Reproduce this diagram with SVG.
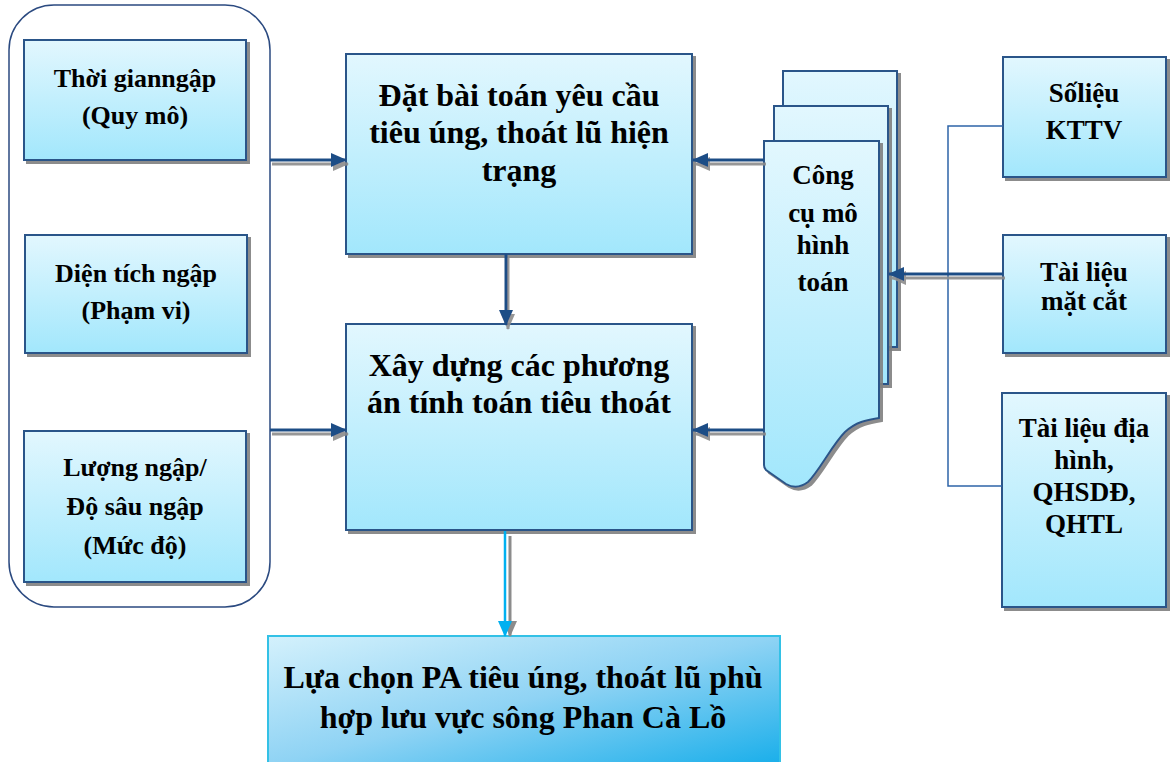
<svg xmlns="http://www.w3.org/2000/svg" width="1170" height="762" viewBox="0 0 1170 762">
  <defs>
    <linearGradient id="boxFill" x1="0" y1="0" x2="0" y2="1">
      <stop offset="0" stop-color="#e2f7fe"/>
      <stop offset="1" stop-color="#a2e7fc"/>
    </linearGradient>
    <linearGradient id="resultFill" x1="0" y1="0" x2="1" y2="1">
      <stop offset="0" stop-color="#d4f1fc"/>
      <stop offset="0.5" stop-color="#8fd3f4"/>
      <stop offset="1" stop-color="#18aeea"/>
    </linearGradient>
    <filter id="shadow" x="-10%" y="-10%" width="130%" height="130%">
      <feDropShadow dx="3" dy="3" stdDeviation="0.6" flood-color="#7f7f7f" flood-opacity="0.9"/>
    </filter>
    <filter id="lineShadow" x="-20%" y="-50%" width="140%" height="200%">
      <feDropShadow dx="2" dy="4" stdDeviation="0.5" flood-color="#8c8c8c" flood-opacity="0.9"/>
    </filter>
    <marker id="head" viewBox="0 0 16 14" refX="15" refY="7" markerWidth="16" markerHeight="14" markerUnits="userSpaceOnUse" orient="auto">
      <path d="M0,0 L16,7 L0,14 Z" fill="#1f4e86"/>
    </marker>
    <marker id="headCyan" viewBox="0 0 16 14" refX="15" refY="7" markerWidth="16" markerHeight="14" markerUnits="userSpaceOnUse" orient="auto">
      <path d="M0,0 L16,7 L0,14 Z" fill="#00b0f0"/>
    </marker>
    <marker id="headGray" viewBox="0 0 16 14" refX="15" refY="7" markerWidth="16" markerHeight="14" markerUnits="userSpaceOnUse" orient="auto">
      <path d="M0,0 L16,7 L0,14 Z" fill="#8c8c8c"/>
    </marker>
  </defs>
  <style>
    .box { fill: url(#boxFill); stroke: #2a5589; stroke-width: 2; filter: url(#shadow); }
    .result { fill: url(#resultFill); stroke: #33c1e6; stroke-width: 2; }
    .frame { fill: none; stroke: #2b4a80; stroke-width: 1.5; }
    text { font-family: 'Liberation Serif', 'DejaVu Serif', serif; font-weight: bold; fill: #000; text-anchor: middle; }
    .s26 { font-size: 26px; }
    .s27 { font-size: 27px; }
    .s32 { font-size: 32px; }
    .arrow { stroke: #1f4e86; stroke-width: 3; fill: none; marker-end: url(#head); }
    .bracket { stroke: #2e64a8; stroke-width: 1.5; fill: none; }
  </style>

  <!-- rounded frame around the flood indicators -->
  <rect id="indicators" class="frame" x="9" y="5" width="261" height="602" rx="45" ry="45"/>

  <g id="thoi-gian">
    <rect class="box" x="24" y="40" width="222" height="120"/>
    <text class="s26" x="135" y="87">Thời gianngập</text>
    <text class="s26" x="135" y="124">(Quy mô)</text>
  </g>
  <g id="dien-tich">
    <rect class="box" x="25" y="235" width="222" height="118"/>
    <text class="s26" x="136" y="282">Diện tích ngập</text>
    <text class="s26" x="136" y="319">(Phạm vi)</text>
  </g>
  <g id="luong-ngap">
    <rect class="box" x="24" y="431" width="222" height="151"/>
    <text class="s26" x="135" y="476">Lượng ngập/</text>
    <text class="s26" x="135" y="515">Độ sâu ngập</text>
    <text class="s26" x="135" y="554">(Mức độ)</text>
  </g>

  <g id="dat-bai-toan">
    <rect class="box" x="346" y="54" width="346" height="200"/>
    <text class="s32" x="519" y="106">Đặt bài toán yêu cầu</text>
    <text class="s32" x="519" y="143">tiêu úng, thoát lũ hiện</text>
    <text class="s32" x="519" y="181">trạng</text>
  </g>
  <g id="xay-dung">
    <rect class="box" x="346" y="324" width="346" height="206"/>
    <text class="s32" x="519" y="376">Xây dựng các phương</text>
    <text class="s32" x="519" y="413">án tính toán tiêu thoát</text>
  </g>

  <g id="lua-chon">
    <rect class="result" x="268" y="636" width="512" height="130"/>
    <text class="s32" x="523" y="688">Lựa chọn PA tiêu úng, thoát lũ phù</text>
    <text class="s32" x="523" y="728">hợp lưu vực sông Phan Cà Lồ</text>
  </g>

  <!-- stacked documents: modelling tools -->
  <g id="cong-cu">
    <rect class="box" x="783" y="71" width="114" height="276"/>
    <rect class="box" x="774" y="106" width="114" height="278"/>
    <path class="box" d="M764,141 H879 V418 C866,420 856,422 845,432 C832,445 820,470 808,482 C800,488 793,488 786,484 L766,470 C765,469 764,467 764,465 Z"/>
    <text class="s27" x="823" y="184">Công</text>
    <text class="s27" x="823" y="222">cụ mô</text>
    <text class="s27" x="823" y="254">hình</text>
    <text class="s27" x="823" y="291">toán</text>
  </g>

  <g id="so-lieu">
    <rect class="box" x="1003" y="57" width="163" height="120"/>
    <text class="s27" x="1084" y="102">Sốliệu</text>
    <text class="s27" x="1084" y="139">KTTV</text>
  </g>
  <g id="mat-cat">
    <rect class="box" x="1003" y="235" width="163" height="118"/>
    <text class="s27" x="1084" y="281">Tài liệu</text>
    <text class="s27" x="1084" y="310">mặt cắt</text>
  </g>
  <g id="dia-hinh">
    <rect class="box" x="1002" y="393" width="164" height="214"/>
    <text class="s27" x="1084" y="437">Tài liệu địa</text>
    <text class="s27" x="1084" y="469">hình,</text>
    <text class="s27" x="1084" y="501">QHSDĐ,</text>
    <text class="s27" x="1084" y="533">QHTL</text>
  </g>

  <g id="connectors">
    <!-- bracket joining the data sources -->
    <path class="bracket" d="M1003,126 H948 V486 H1002"/>
    <g filter="url(#lineShadow)">
      <line class="arrow" x1="270" y1="160" x2="346" y2="160"/>
      <line class="arrow" x1="270" y1="430" x2="346" y2="430"/>
      <line class="arrow" x1="764" y1="160" x2="693" y2="160"/>
      <line class="arrow" x1="764" y1="430" x2="693" y2="430"/>
      <line class="arrow" x1="1003" y1="274" x2="889" y2="274"/>
      <line class="arrow" x1="506" y1="254" x2="506" y2="325"/>
    </g>
    <!-- result arrow with offset grey shadow -->
    <line x1="510" y1="536" x2="510" y2="636" stroke="#8c8c8c" stroke-width="3" marker-end="url(#headGray)"/>
    <line x1="505" y1="531" x2="505" y2="636" stroke="#00b0f0" stroke-width="2.5" marker-end="url(#headCyan)"/>
  </g>
</svg>
